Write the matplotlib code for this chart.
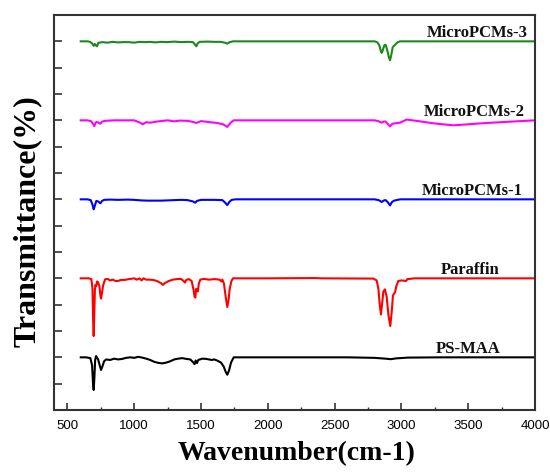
"""
FTIR spectra of PS-MAA, paraffin and MicroPCMs (stacked traces)
"""

import matplotlib
matplotlib.use('Agg')
import matplotlib.pyplot as plt
from matplotlib.ticker import MultipleLocator

# --- data: (wavenumber, transmittance relative to baseline) ---
ps_maa = [(600, 0), (640, 0), (672, -0.03), (685, -0.3), (692, -1.0), (697, -1.24), (702, -0.8),
          (708, -0.1), (715, 0.05), (730, -0.08), (742, -0.3), (752, -0.48), (762, -0.35),
          (775, -0.15), (790, -0.08), (820, -0.1), (850, -0.05), (880, -0.08), (910, -0.06),
          (940, -0.02), (970, 0.0), (1000, -0.02), (1030, 0.02), (1060, -0.01), (1090, -0.05),
          (1120, -0.1), (1150, -0.17), (1180, -0.21), (1210, -0.23), (1240, -0.2), (1270, -0.15),
          (1300, -0.08), (1330, -0.05), (1360, -0.03), (1390, -0.06), (1420, -0.08), (1440, -0.18),
          (1452, -0.26), (1460, -0.12), (1470, -0.22), (1480, -0.1), (1492, -0.08), (1510, -0.05),
          (1540, -0.06), (1580, -0.1), (1600, -0.08), (1620, -0.12), (1650, -0.2), (1670, -0.35),
          (1685, -0.55), (1697, -0.66), (1710, -0.5), (1725, -0.2), (1745, 0.0), (2000, 0.0),
          (2600, 0.0), (2800, -0.02), (2880, -0.05), (2920, -0.07), (2960, -0.04), (3050, -0.01),
          (3300, 0), (4000, 0)]

paraffin = [(600, 0), (660, 0), (680, -0.03), (688, -0.4), (693, -1.6), (697, -2.19), (701, -1.5),
            (706, -0.45), (710, -0.25), (716, -0.3), (722, -0.12), (730, -0.15), (740, -0.3),
            (747, -0.65), (752, -0.77), (758, -0.6), (767, -0.28), (782, -0.04), (800, -0.02),
            (820, -0.08), (840, -0.05), (860, -0.1), (880, -0.1), (900, -0.06), (930, -0.06),
            (960, -0.03), (1000, 0.0), (1020, -0.05), (1040, 0.0), (1055, -0.08), (1070, 0.0),
            (1090, -0.05), (1110, -0.05), (1140, -0.06), (1170, -0.1), (1200, -0.18), (1215, -0.25),
            (1230, -0.18), (1260, -0.1), (1290, -0.05), (1320, -0.03), (1350, -0.02), (1370, -0.1),
            (1380, -0.16), (1390, -0.06), (1410, -0.03), (1430, -0.1), (1445, -0.45), (1452, -0.7),
            (1458, -0.73), (1464, -0.4), (1470, -0.45), (1477, -0.5), (1484, -0.2), (1495, -0.05),
            (1520, -0.02), (1560, -0.05), (1600, -0.03), (1640, -0.05), (1652, -0.12), (1660, -0.05),
            (1672, -0.2), (1685, -0.7), (1697, -1.09), (1706, -0.85), (1715, -0.4), (1728, -0.1),
            (1740, 0.0), (2000, 0.0), (2350, 0.01), (2400, 0), (2790, -0.01), (2815, -0.08),
            (2828, -0.4), (2838, -1.0), (2847, -1.37), (2855, -1.0), (2865, -0.5), (2877, -0.42),
            (2890, -0.7), (2903, -1.4), (2917, -1.81), (2927, -1.3), (2937, -0.65), (2945, -0.58),
            (2952, -0.54), (2962, -0.3), (2977, -0.1), (3000, -0.08), (3020, -0.09), (3035, -0.1),
            (3045, -0.03), (3100, 0), (4000, 0)]

micro1 = [(600, 0), (650, 0), (675, -0.03), (688, -0.2), (697, -0.38), (705, -0.25), (717, -0.06),
          (730, -0.08), (747, -0.15), (760, -0.06), (775, -0.02), (820, -0.01), (880, -0.02),
          (950, -0.01), (1000, -0.02), (1050, -0.04), (1100, -0.05), (1150, -0.05), (1200, -0.05),
          (1250, -0.04), (1300, -0.03), (1350, -0.02), (1400, -0.03), (1440, -0.08), (1457, -0.13),
          (1470, -0.06), (1500, -0.02), (1600, -0.02), (1660, -0.03), (1680, -0.12), (1697, -0.22),
          (1712, -0.1), (1730, -0.02), (1760, 0), (2000, 0), (2800, 0), (2830, -0.03),
          (2852, -0.1), (2870, -0.04), (2882, -0.03), (2900, -0.12), (2915, -0.23), (2930, -0.1),
          (2945, -0.05), (2990, 0), (4000, 0)]

micro2 = [(600, 0), (650, 0), (677, -0.03), (690, -0.12), (702, -0.22), (712, -0.08), (722, -0.06),
          (747, -0.13), (760, -0.05), (780, -0.02), (850, 0), (1000, 0), (1040, -0.08),
          (1065, -0.15), (1090, -0.07), (1120, -0.09), (1180, -0.04), (1250, 0), (1300, -0.04),
          (1340, -0.01), (1400, -0.02), (1440, -0.06), (1465, -0.1), (1500, -0.03), (1550, -0.06),
          (1620, -0.1), (1665, -0.15), (1697, -0.25), (1720, -0.1), (1745, 0), (2000, 0),
          (2800, 0), (2827, -0.03), (2852, -0.09), (2870, -0.04), (2882, -0.05), (2900, -0.15),
          (2915, -0.23), (2930, -0.14), (2945, -0.12), (2990, -0.09), (3040, 0.03), (3140, -0.04),
          (3250, -0.12), (3390, -0.19), (3500, -0.15), (3640, -0.1), (3890, -0.03), (4000, 0)]

micro3 = [(600, 0), (650, 0), (670, -0.02), (685, -0.08), (697, -0.17), (705, -0.1), (712, -0.15),
          (722, -0.19), (732, -0.06), (760, -0.03), (800, -0.05), (840, -0.02), (880, -0.04),
          (920, -0.03), (960, -0.03), (1000, -0.05), (1040, -0.02), (1080, -0.03), (1120, -0.02),
          (1160, -0.04), (1200, -0.02), (1250, -0.03), (1300, -0.01), (1350, -0.03), (1400, -0.02),
          (1440, -0.03), (1455, -0.12), (1465, -0.19), (1475, -0.08), (1490, -0.02), (1550, -0.01),
          (1600, -0.02), (1650, -0.02), (1685, -0.06), (1697, -0.09), (1710, -0.04), (1740, 0),
          (2000, 0), (2800, 0), (2820, -0.04), (2835, -0.15), (2845, -0.35), (2852, -0.44),
          (2860, -0.35), (2872, -0.15), (2882, -0.13), (2895, -0.35), (2907, -0.62), (2915, -0.72),
          (2925, -0.5), (2935, -0.22), (2945, -0.17), (2955, -0.12), (2970, -0.04), (2990, 0),
          (4000, 0)]

labels = ['PS-MAA', 'Paraffin', 'MicroPCMs-1', 'MicroPCMs-2', 'MicroPCMs-3']
spectra = [ps_maa, paraffin, micro1, micro2, micro3]

# --- style / layout ---
colors = ['black', '#ff0000', '#0000ff', '#ff00ff', '#1a8a1a']
offsets = [0, 3, 6, 9, 12]
label_right = [3745, 3735, 3912, 3927, 3945]

serif = ['Liberation Serif', 'DejaVu Serif']
plt.rcParams['font.family'] = ['Liberation Sans', 'DejaVu Sans']

fig = plt.figure(figsize=(5.5, 4.72), dpi=100)
ax = fig.add_axes([54 / 550, 1 - 410 / 472, 481 / 550, 395 / 472])

for data, col, off, lab, xr in zip(spectra, colors, offsets, labels, label_right):
    wn = [p[0] for p in data]
    tr = [p[1] + off for p in data]
    ax.plot(wn, tr, color=col, lw=1.5)
    ax.text(xr, off + 0.17, lab, ha='right', va='baseline', fontsize=12,
            fontweight='bold', family=serif, color='#111111')

ax.set_xlim(400, 4000)
ax.set_ylim(-2, 13)
ax.xaxis.set_major_locator(MultipleLocator(500))
ax.xaxis.set_minor_locator(MultipleLocator(250))
ax.yaxis.set_major_locator(MultipleLocator(1))
ax.tick_params(axis='x', which='major', direction='in', length=5, width=1.2,
               labelsize=9.5, pad=7, color='#333333')
ax.tick_params(axis='x', which='minor', direction='in', length=2.5, width=1.0, color='#333333')
ax.tick_params(axis='y', which='major', direction='in', length=5.5, width=1.2,
               labelleft=False, color='#333333')
for s in ax.spines.values():
    s.set_linewidth(1.5)
    s.set_color('#333333')

fig.text(297 / 550, 1 - 460 / 472, 'Wavenumber(cm-1)', ha='center', va='baseline',
         fontsize=20, fontweight='bold', family=serif)
fig.text(27 / 550, 1 - 221 / 472, 'Transmittance(%)', ha='center', va='center',
         rotation=90, fontsize=23, fontweight='bold', family=serif)

fig.savefig('out.png', dpi=100)
plt.close(fig)
